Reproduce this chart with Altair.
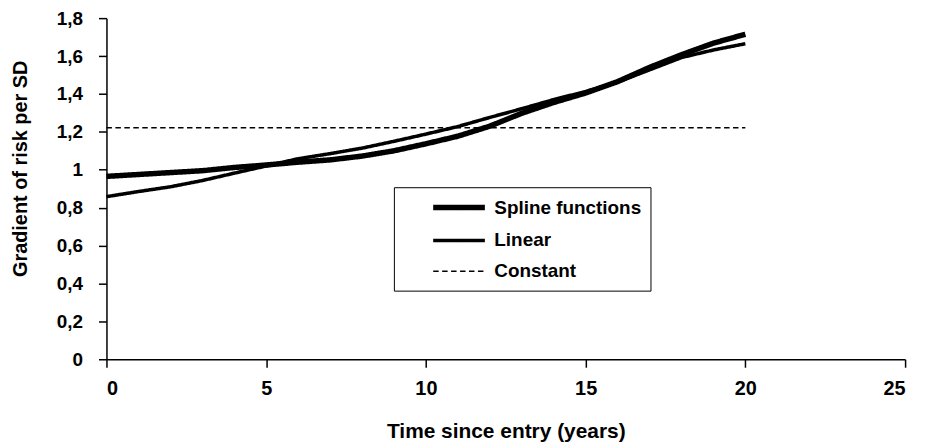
import altair as alt
import pandas as pd

# ---- data ----
years = list(range(21))
spline = [0.965, 0.975, 0.985, 0.995, 1.012, 1.025, 1.04, 1.052, 1.072, 1.10,
          1.137, 1.177, 1.23, 1.298, 1.355, 1.405, 1.465, 1.54, 1.607, 1.668, 1.715]
linear = [0.858, 0.885, 0.91, 0.943, 0.982, 1.02, 1.058, 1.085, 1.114, 1.15,
          1.188, 1.228, 1.276, 1.322, 1.37, 1.413, 1.462, 1.527, 1.592, 1.632, 1.665]
constant_years = [0, 20]
constant = [1.222, 1.222]
series_names = ["Spline functions", "Linear", "Constant"]
x_ticks = [0, 5, 10, 15, 20, 25]
y_ticks = [0, 0.2, 0.4, 0.6, 0.8, 1.0, 1.2, 1.4, 1.6, 1.8]

rows = []
for x, v in zip(years, spline):
    rows.append({"year": x, "value": v, "series": series_names[0]})
for x, v in zip(years, linear):
    rows.append({"year": x, "value": v, "series": series_names[1]})
for x, v in zip(constant_years, constant):
    rows.append({"year": x, "value": v, "series": series_names[2]})
df = pd.DataFrame(rows)

FONT = "Liberation Sans"

# legend symbol: a horizontal stroke three times as long as the nominal symbol box
legend = alt.Legend(
    title=None,
    orient="none",
    legendX=289,
    legendY=170,
    strokeColor="black",
    padding=9,
    rowPadding=11,
    symbolType="M-3,0H3",
    symbolSize=300,
    symbolStrokeColor="black",
    symbolFillColor="transparent",
    symbolOffset=45,
    labelOffset=24,
    labelFont=FONT,
    labelFontSize=19,
    labelFontWeight="bold",
    labelColor="black",
)

chart = (
    alt.Chart(df)
    .mark_line(stroke="black")
    .encode(
        x=alt.X(
            "year:Q",
            scale=alt.Scale(domain=[0, 25], nice=False),
            axis=alt.Axis(
                values=x_ticks,
                title="Time since entry (years)",
                titleY=62,
                titleBaseline="top",
                labelPadding=11,
            ),
        ),
        y=alt.Y(
            "value:Q",
            scale=alt.Scale(domain=[0, 1.8], nice=False),
            axis=alt.Axis(
                values=y_ticks,
                labelExpr="replace(format(datum.value, '.1~f'), '.', ',')",
                labelFontSize=19,
                title="Gradient of risk per SD",
                titleFontSize=20,
                titleX=-86,
                titleY=151,
                titleAngle=270,
                titleBaseline="middle",
                labelPadding=16,
            ),
        ),
        strokeWidth=alt.StrokeWidth(
            "series:N",
            scale=alt.Scale(domain=series_names, range=[5.5, 1.6, 1.2]),
            legend=legend,
        ),
        strokeDash=alt.StrokeDash(
            "series:N",
            scale=alt.Scale(domain=series_names, range=[[1, 0], [1, 0], [5.5, 3.5]]),
            legend=legend,
        ),
    )
    .properties(
        width=803,
        height=343,
        autosize=alt.AutoSizeParams(type="none"),
        padding={"left": 99, "top": 9, "right": 16, "bottom": 82},
    )
    .configure(font=FONT)
    .configure_view(stroke="transparent")
    .configure_axis(
        grid=False,
        domainColor="black",
        domainWidth=1.5,
        tickColor="black",
        tickWidth=1.5,
        tickSize=8,
        labelFont=FONT,
        labelFontSize=20,
        labelFontWeight="bold",
        labelColor="black",
        titleFont=FONT,
        titleFontSize=21,
        titleFontWeight="bold",
        titleColor="black",
    )
)

chart.save("out.html", embed_options={"renderer": "svg", "actions": False})
